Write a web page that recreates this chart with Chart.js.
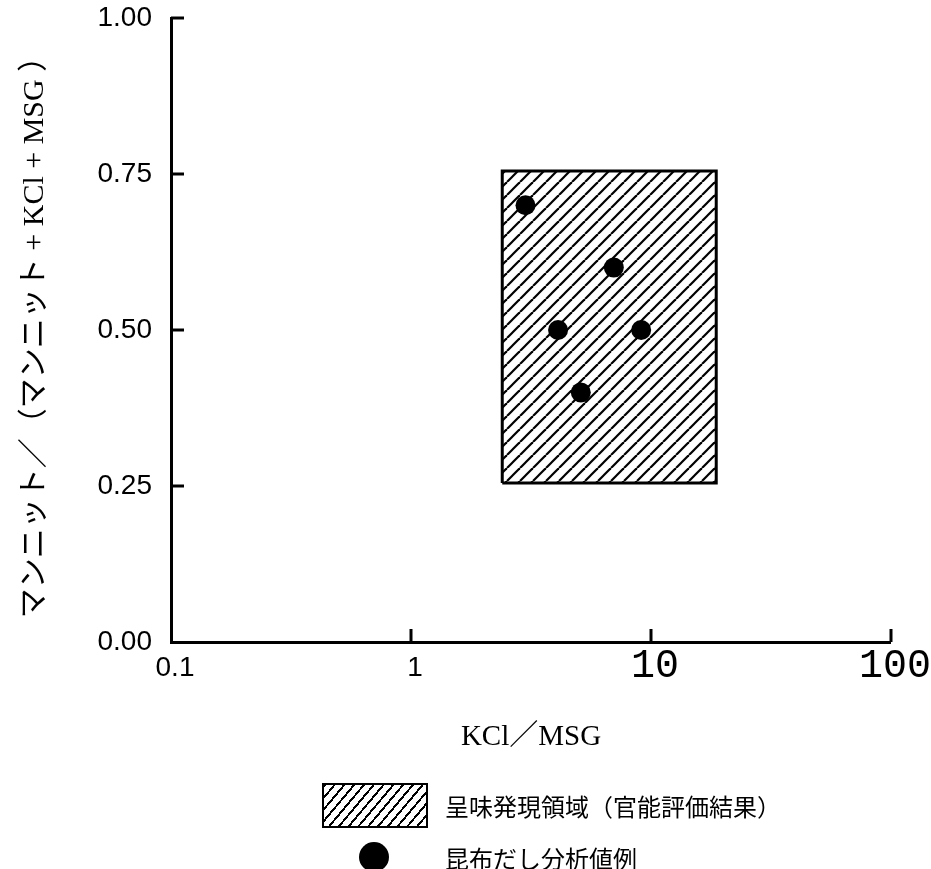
<!DOCTYPE html>
<html>
<head>
<meta charset="utf-8">
<script src="https://cdn.jsdelivr.net/npm/chart.js@4/dist/chart.umd.min.js"></script>
<style>
  html, body { margin: 0; padding: 0; background: #fff; }
  #wrap { position: relative; width: 931px; height: 869px; overflow: hidden; }
  #legend { position: absolute; left: 0; top: 0; width: 931px; height: 869px; pointer-events: none;
    font-family: "Noto Sans CJK JP", sans-serif; font-size: 24px; color: #000; }
  .swatch-box { position: absolute; left: 322px; top: 783px; width: 102px; height: 41px;
    border: 2.5px solid #000;
    background: repeating-linear-gradient(-50deg, #fff 0px, #fff 5.5px, #000 5.5px, #000 7.5px); }
  .swatch-dot { position: absolute; left: 359px; top: 842px; width: 30px; height: 30px;
    border-radius: 50%; background: #000; }
  .label { position: absolute; left: 445px; line-height: 1; white-space: nowrap; }
</style>
</head>
<body>
<div id="wrap">
  <canvas id="chart" width="931" height="869"></canvas>
  <div id="legend">
    <div class="swatch-box"></div>
    <div class="label" style="top:794px">呈味発現領域（官能評価結果）</div>
    <div class="swatch-dot"></div>
    <div class="label" style="top:846px">昆布だし分析値例</div>
  </div>
</div>
<script>
// Axis ticks
const xTickValues = [0.1, 1, 10, 100];
const xTickLabels = ["0.1", "1", "10", "100"];
const yTickValues = [0, 0.25, 0.5, 0.75, 1];
const yTickLabels = ["0.00", "0.25", "0.50", "0.75", "1.00"];

// Taste region (sensory evaluation result): x range and y range
const regionX = [2.4, 18.7];
const regionY = [0.255, 0.755];

// Kombu dashi analysis values
const sampleX = [3.0, 7.0, 4.1, 9.1, 5.1];
const sampleY = [0.70, 0.60, 0.50, 0.50, 0.40];

const xTitle = "KCl／MSG";
const yTitle = "マンニット／（マンニット + KCl + MSG ）";

// Hatch pattern for the region
function makeHatch(size) {
  const c = document.createElement("canvas");
  c.width = size;
  c.height = size;
  const g = c.getContext("2d");
  g.fillStyle = "#fff";
  g.fillRect(0, 0, size, size);
  g.strokeStyle = "#000";
  g.lineWidth = 2.2;
  for (let k = -1; k <= 1; k++) {
    g.beginPath();
    g.moveTo(k * size, size);
    g.lineTo(k * size + size, 0);
    g.stroke();
  }
  return g.createPattern(c, "repeat");
}

const hatch = makeHatch(13);

// Inward tick marks on both axes
const innerTicks = {
  id: "innerTicks",
  afterDraw(chart) {
    const { ctx, chartArea, scales } = chart;
    ctx.save();
    ctx.strokeStyle = "#000";
    ctx.lineWidth = 3;
    scales.x.ticks.forEach((t) => {
      if (t.value === xTickValues[0]) return;
      const px = Math.round(scales.x.getPixelForValue(t.value));
      ctx.beginPath();
      ctx.moveTo(px, chartArea.bottom);
      ctx.lineTo(px, chartArea.bottom - 13);
      ctx.stroke();
    });
    scales.y.ticks.forEach((t) => {
      if (t.value === yTickValues[0]) return;
      const py = Math.round(scales.y.getPixelForValue(t.value));
      ctx.beginPath();
      ctx.moveTo(chartArea.left, py);
      ctx.lineTo(chartArea.left + 13, py);
      ctx.stroke();
    });
    ctx.restore();
  },
};

const outline = [
  { x: regionX[0], y: regionY[0] },
  { x: regionX[1], y: regionY[0] },
  { x: regionX[1], y: regionY[1] },
  { x: regionX[0], y: regionY[1] },
  { x: regionX[0], y: regionY[0] },
];

// datasets are painted last-to-first, so the dots come first in the list
new Chart(document.getElementById("chart"), {
  type: "scatter",
  data: {
    datasets: [
      {
        data: sampleX.map((x, i) => ({ x: x, y: sampleY[i] })),
        backgroundColor: "#000",
        borderWidth: 0,
        pointRadius: 10,
      },
      {
        // region outline
        type: "line",
        data: outline,
        borderColor: "#000",
        borderWidth: 3,
        pointRadius: 0,
        fill: false,
        tension: 0,
      },
      {
        // top edge, hatched down to bottom edge
        type: "line",
        data: [
          { x: regionX[0], y: regionY[1] },
          { x: regionX[1], y: regionY[1] },
        ],
        borderWidth: 0,
        pointRadius: 0,
        backgroundColor: hatch,
        fill: "+1",
      },
      {
        // bottom edge of region (fill target)
        type: "line",
        data: [
          { x: regionX[0], y: regionY[0] },
          { x: regionX[1], y: regionY[0] },
        ],
        borderWidth: 0,
        pointRadius: 0,
        fill: false,
      },
    ],
  },
  options: {
    responsive: false,
    animation: false,
    events: [],
    layout: { padding: { left: 0, top: 18, right: 39, bottom: 114.6 } },
    scales: {
      x: {
        type: "logarithmic",
        min: 0.1,
        max: 100,
        afterBuildTicks(scale) {
          scale.ticks = xTickValues.map((v) => ({ value: v }));
        },
        afterFit(scale) {
          scale.height = 112.4;
        },
        grid: { drawOnChartArea: false, drawTicks: false },
        border: { color: "#000", width: 3 },
        ticks: {
          color: "#000",
          padding: 4,
          labelOffset: 4,
          maxRotation: 0,
          autoSkip: false,
          callback: (value, index) => xTickLabels[index],
          font: (ctx) =>
            ctx.tick && ctx.tick.value >= 10
              ? { family: "'Liberation Mono', monospace", size: 40, lineHeight: 1.0 }
              : { family: "'Liberation Sans', sans-serif", size: 28, lineHeight: 1.6 },
        },
        title: {
          display: true,
          text: xTitle,
          color: "#000",
          padding: { top: 0, bottom: 0 },
          font: { family: "'Liberation Serif', 'Noto Sans CJK JP', serif", size: 29 },
        },
      },
      y: {
        type: "linear",
        min: 0,
        max: 1,
        afterBuildTicks(scale) {
          scale.ticks = yTickValues.map((v) => ({ value: v }));
        },
        afterFit(scale) {
          scale.width = 171;
          // the top label may overhang; keep the plot top at the layout padding
          scale.paddingTop = 0;
          scale.paddingBottom = 0;
        },
        grid: { drawOnChartArea: false, drawTicks: false },
        border: { color: "#000", width: 3 },
        ticks: {
          color: "#000",
          padding: 19,
          callback: (value, index) => yTickLabels[index],
          font: { family: "'Liberation Sans', sans-serif", size: 28 },
        },
        title: {
          display: true,
          text: yTitle,
          color: "#000",
          padding: { top: 17, bottom: 0 },
          font: { family: "'Liberation Serif', 'Noto Sans CJK JP', serif", size: 30 },
        },
      },
    },
    plugins: {
      legend: { display: false },
      tooltip: { enabled: false },
    },
  },
  plugins: [innerTicks],
});
</script>
</body>
</html>
